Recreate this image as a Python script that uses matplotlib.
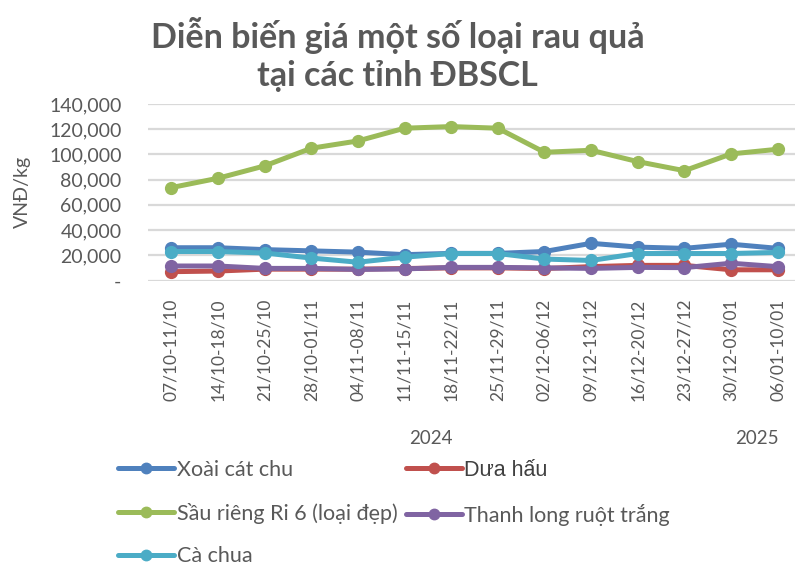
import matplotlib
matplotlib.use("Agg")
import matplotlib.pyplot as plt
from matplotlib.ticker import FuncFormatter, FixedLocator

categories = ["07/10-11/10", "14/10-18/10", "21/10-25/10", "28/10-01/11",
              "04/11-08/11", "11/11-15/11", "18/11-22/11", "25/11-29/11",
              "02/12-06/12", "09/12-13/12", "16/12-20/12", "23/12-27/12",
              "30/12-03/01", "06/01-10/01"]
xoai = [26000, 26000, 24500, 23500, 22500, 20500, 21500, 21500, 23000, 29500, 26500, 25500, 28800, 25500]
dua_hau = [7000, 7500, 9000, 9000, 9000, 9500, 10000, 10000, 9500, 11000, 12000, 12000, 8500, 8500]
sau_rieng = [73700, 81100, 90900, 104900, 110700, 120800, 122100, 120800, 101700, 103300, 94300, 87100, 100400, 104100]
thanh_long = [11500, 11500, 9600, 9600, 8800, 9200, 10400, 10400, 10000, 9600, 10400, 10200, 13700, 11000]
ca_chua = [23000, 23000, 21800, 17800, 14500, 18500, 21400, 21400, 17000, 15900, 21400, 21400, 21400, 22300]
series_names = ["Xoài cát chu", "Dưa hấu", "Sầu riêng Ri 6 (loại đẹp)", "Thanh long ruột trắng", "Cà chua"]
series_colors = ["#4F81BD", "#C0504D", "#9BBB59", "#8064A2", "#4BACC6"]
y_ticks = [0, 20000, 40000, 60000, 80000, 100000, 120000, 140000]
year_labels = ["2024", "2025"]
year_positions = [5.57, 12.55]

plt.rcParams['font.family'] = ['Lato', 'DejaVu Sans']
GRAY = "#595959"

fig = plt.figure(figsize=(7.95, 5.69), dpi=100)
W, H = 795.0, 569.0
ax = fig.add_axes([148 / W, 1 - 280.5 / H, (801 - 148) / W, (280.5 - 104) / H])

x = list(range(len(categories)))
all_series = [xoai, dua_hau, sau_rieng, thanh_long, ca_chua]
handles = []
for vals, name, col in zip(all_series, series_names, series_colors):
    h, = ax.plot(x, vals, color=col, lw=3.6, marker='o', markersize=8.5,
                 label=name, solid_joinstyle='round', solid_capstyle='round')
    handles.append(h)

ax.set_xlim(-0.5, len(categories) - 0.5)
ax.set_ylim(0, 140000)
ax.yaxis.set_major_locator(FixedLocator(y_ticks))
ax.yaxis.set_major_formatter(FuncFormatter(lambda v, p: "-" if v == 0 else f"{int(v):,}"))
ax.grid(axis='y', color="#D9D9D9", lw=1.6)
ax.set_axisbelow(True)
for s in ax.spines.values():
    s.set_visible(False)
ax.set_xticks(x)
ax.set_xticklabels(categories, rotation=90)
ax.tick_params(axis='y', length=0, pad=19, labelsize=14, labelcolor=GRAY)
ax.tick_params(axis='x', length=0, pad=13, labelsize=12.5, labelcolor=GRAY)

trans = ax.get_xaxis_transform()
for lbl, pos in zip(year_labels, year_positions):
    ax.text(pos, (280.5 - 438) / 176.5, lbl, transform=trans, ha='center', va='center',
            fontsize=13.5, color=GRAY)

fig.text(22 / W, 1 - 192 / H, "VNĐ/kg", rotation=90, ha='center', va='center',
         fontsize=14, color=GRAY)

fig.text(0.5, 1 - 35 / H, "Diễn biến giá một số loại rau quả", ha='center', va='center',
         fontsize=24.5, fontweight='bold', color=GRAY)
fig.text(0.5, 1 - 76 / H, "tại các tỉnh ĐBSCL", ha='center', va='center',
         fontsize=24.5, fontweight='bold', color=GRAY)

# legend filled row-wise like Excel: column 1 = series 0, 2, 4 ; column 2 = series 1, 3
order = [0, 2, 4, 1, 3]
leg = fig.legend(handles=[handles[i] for i in order], loc='upper left',
                 bbox_to_anchor=(118 / W, 1 - 460 / H),
                 ncol=2, frameon=False, fontsize=15.5, handlelength=2.6, handletextpad=0.12,
                 columnspacing=0.4, labelspacing=1.05, borderaxespad=0, borderpad=0)
for t in leg.get_texts():
    t.set_color(GRAY)
for lh in leg.legend_handles:
    lh.set_markersize(7.5)
dua_text = leg.get_texts()[order.index(1)]
dua_text.set_fontfamily(['Liberation Sans', 'DejaVu Sans'])
dua_text.set_color("#404040")

fig.savefig("out.png", dpi=100)
